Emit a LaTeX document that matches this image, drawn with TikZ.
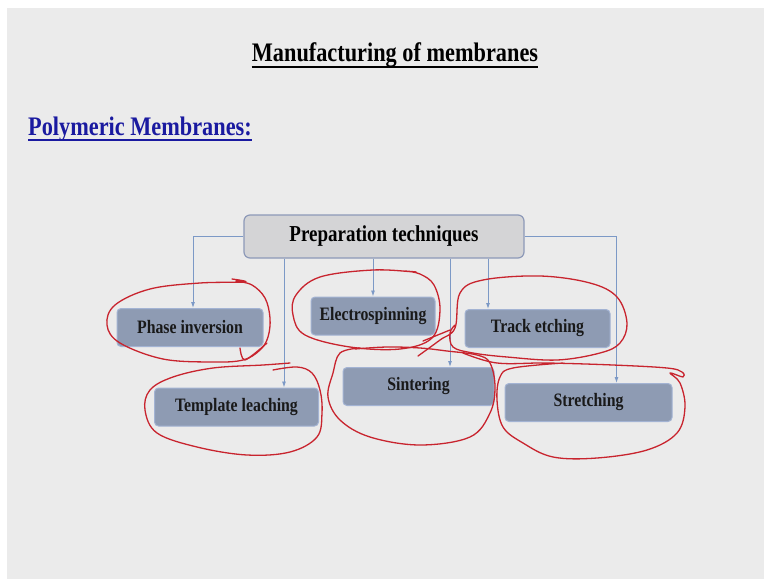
\documentclass[tikz,border=0pt]{standalone}
\usepackage{fontspec}
\setmainfont{Liberation Serif}
\usetikzlibrary{arrows.meta, positioning}
\definecolor{slideBg}{RGB}{235,235,235}
\definecolor{linkBlue}{RGB}{124,153,198}
\definecolor{headBlue}{RGB}{26,26,160}
\definecolor{rootFill}{RGB}{212,212,214}
\definecolor{rootLine}{RGB}{141,153,184}
\definecolor{leafFill}{RGB}{142,155,179}
\definecolor{leafLine}{RGB}{163,179,211}
\definecolor{penRed}{RGB}{200,36,46}
\newcommand{\tallbox}[1]{\scalebox{1}[1.2]{#1}}
\tikzset{
  rootbox/.style={rectangle, rounded corners=6pt, draw=rootLine, line width=1.2pt,
                  fill=rootFill, minimum width=280pt, minimum height=43pt,
                  font=\fontsize{19}{22}\selectfont\bfseries},
  leafbox/.style={rectangle, rounded corners=4pt, draw=leafLine, line width=1pt,
                  fill=leafFill, minimum height=38pt, text=black!90,
                  font=\fontsize{15.8}{18}\selectfont\bfseries},
  link/.style={draw=linkBlue, line width=0.9pt, -{Latex[length=6pt,width=4pt]}},
  scribble/.style={draw=penRed, line width=1.3pt, line cap=round, line join=round},
  uline/.style={line width=1.8pt}
}

\begin{document}
\begin{tikzpicture}[x=1pt, y=-1pt]
\useasboundingbox (0,0) rectangle (764,579);
\fill[slideBg] (7,8) rectangle (764,579);

% headings
\node[inner sep=0, anchor=base, font=\fontsize{22.3}{26}\selectfont\bfseries]
  (title) at (395,61) {\tallbox{Manufacturing of membranes}};
\draw[uline] ([yshift=-6pt]title.base west) -- ([yshift=-6pt]title.base east);
\node[inner sep=0, anchor=base west, text=headBlue, font=\fontsize{22.3}{26}\selectfont\bfseries]
  (polym) at (28,135) {\tallbox{Polymeric Membranes:}};
\draw[uline, headBlue] ([yshift=-5pt]polym.base west) -- ([yshift=-5pt]polym.base east);

% boxes
\node[rootbox] (prep) at (384,236.5) {\tallbox{Preparation techniques}};
\node[leafbox, minimum width=146pt] (phase) at (190,327.5) {\tallbox{Phase inversion}};
\node[leafbox, minimum width=124pt] (elec) at (373,316) {\tallbox{Electrospinning}};
\node[leafbox, minimum width=145pt] (track) at (537.5,328.5) {\tallbox{Track etching}};
\node[leafbox, minimum width=164pt] (tmpl) at (236.5,407) {\tallbox{Template leaching}};
\node[leafbox, minimum width=151pt] (sint) at (418.5,386.5) {\tallbox{Sintering}};
\node[leafbox, minimum width=167pt] (stretch) at (588.5,402.5) {\tallbox{Stretching}};

% connectors
\draw[link] (prep.west) -| ([xshift=3pt]phase.north);
\draw[link] (prep.east) -| ([xshift=28pt]stretch.north);
\draw[link] ([xshift=-100pt]prep.south) -- ([xshift=-100pt]prep.south |- tmpl.north);
\draw[link] (prep.south -| elec.north) -- (elec.north);
\draw[link] ([xshift=66pt]prep.south) -- ([xshift=66pt]prep.south |- sint.north);
\draw[link] ([xshift=104pt]prep.south) -- ([xshift=104pt]prep.south |- track.north);

% hand-drawn marks
\draw[scribble] plot[smooth, tension=0.6] coordinates {(232,279) (245,282) (200,283) (150,289)
  (115,305) (107,325) (120,343) (163,359) (213,362) (243,360) (260,350) (268,337) (270,318)
  (265,298) (252,285) (236,281)};
\draw[scribble] plot[smooth, tension=0.5] coordinates {(240,348) (245,360) (267,343)};
\draw[scribble] plot[smooth, tension=0.6] coordinates {(405,271) (415,272) (373,270) (320,277)
  (296,295) (293,315) (305,335) (350,347) (400,349) (432,338) (440,310) (434,285) (420,274)
  (405,271)};
\draw[scribble] plot[smooth, tension=0.6] coordinates {(418,356) (440,340) (455,328) (460,293)
  (483,280) (540,276) (590,283) (617,297) (627,323) (620,343) (600,353) (557,360) (507,357)
  (473,353) (453,347) (450,333) (455,325)};
\draw[scribble] plot[smooth, tension=0.6] coordinates {(423,341) (450,330)};
\draw[scribble] plot[smooth, tension=0.6] coordinates {(273,370) (297,367) (312,373) (320,390)
  (322,413) (317,437) (290,452) (247,455) (197,447) (157,433) (145,410) (150,390) (173,377)
  (213,368) (263,365) (290,363)};
\draw[scribble] plot[smooth, tension=0.6] coordinates {(360,348) (340,353) (333,373) (328,397)
  (340,420) (370,437) (420,445) (470,437) (490,413) (495,387) (490,363) (477,355) (447,351)
  (420,348) (387,347) (355,349)};
\draw[scribble] plot[smooth, tension=0.6] coordinates {(463,353) (497,363) (547,363) (613,365)
  (667,368) (682,372) (683,377) (670,373) (680,383) (685,407) (677,433) (647,450) (597,458)
  (553,457) (523,443) (503,427) (497,400) (500,377) (513,368) (563,363)};
\end{tikzpicture}
\end{document}
